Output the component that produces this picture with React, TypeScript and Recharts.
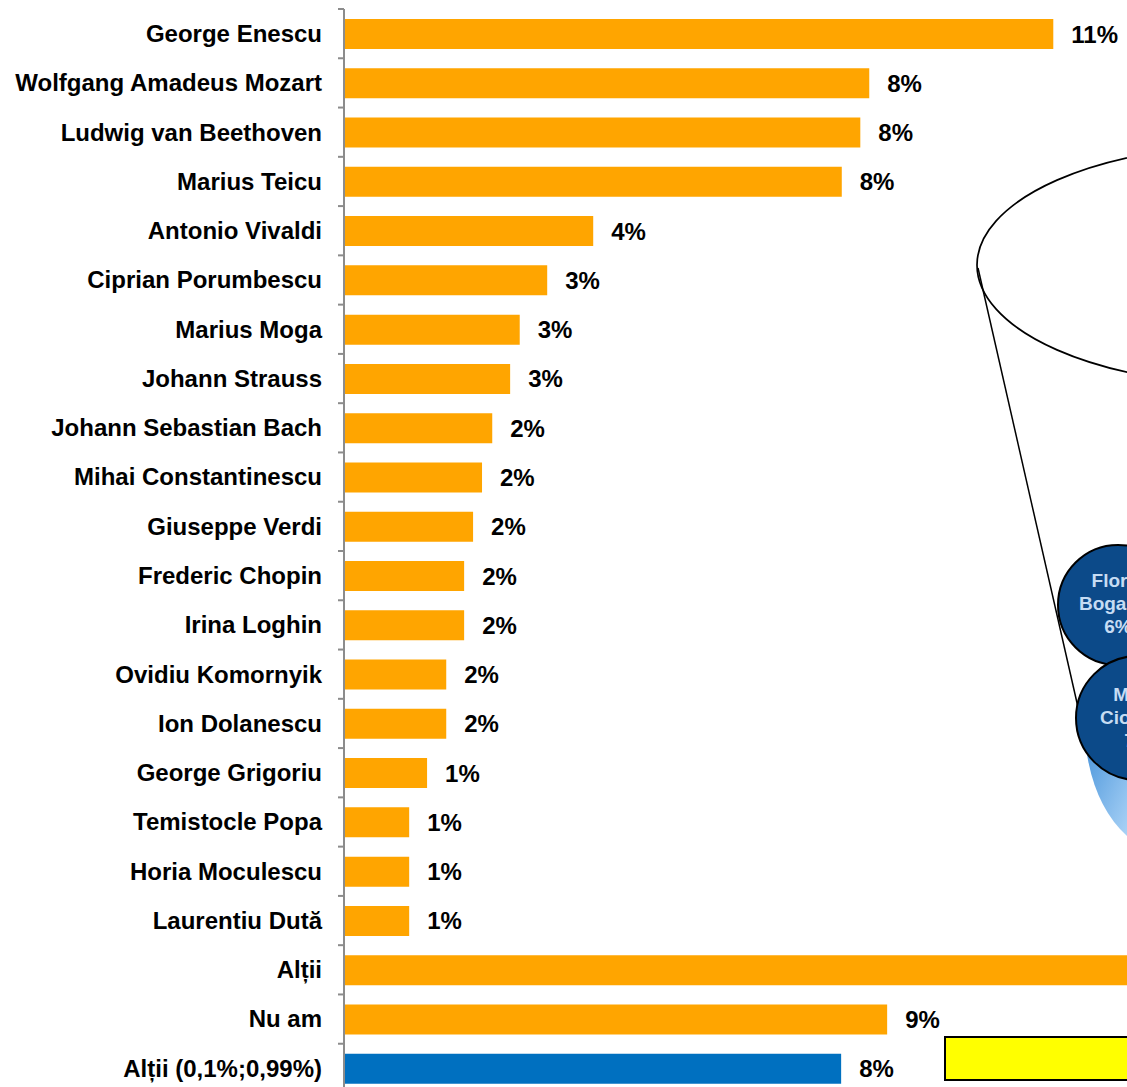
import React from "react";
import { BarChart, Bar, XAxis, YAxis, Cell, LabelList } from "recharts";

const categories = [
  "George Enescu",
  "Wolfgang Amadeus Mozart",
  "Ludwig van Beethoven",
  "Marius Teicu",
  "Antonio Vivaldi",
  "Ciprian Porumbescu",
  "Marius Moga",
  "Johann Strauss",
  "Johann Sebastian Bach",
  "Mihai Constantinescu",
  "Giuseppe Verdi",
  "Frederic Chopin",
  "Irina Loghin",
  "Ovidiu Komornyik",
  "Ion Dolanescu",
  "George Grigoriu",
  "Temistocle Popa",
  "Horia Moculescu",
  "Laurentiu Dută",
  "Alții",
  "Nu am",
  "Alții (0,1%;0,99%)",
];

const values = [
  11.1, 8.22, 8.08, 7.79, 3.9, 3.18, 2.75, 2.6, 2.32, 2.16, 2.02, 1.88, 1.88,
  1.6, 1.6, 1.3, 1.02, 1.02, 1.02, 15, 8.5, 7.78,
];

const highlighted = ["Alții (0,1%;0,99%)"];

const data = categories.map((name, i) => ({ name, value: values[i] }));

const W = 1127;
const H = 1087;
const AXIS_X = 344;
const CHART_W = 1622;
const CHART_H = 1100;
const MARGIN = { top: 9, right: 0, bottom: 7, left: 0 };
const BAND = (CHART_H - MARGIN.top - MARGIN.bottom) / categories.length;
const FONT = "'Liberation Sans', Arial, sans-serif";

function CategoryTick(props: any) {
  const { y, payload } = props;
  return (
    <g>
      <line
        x1={AXIS_X - 6}
        x2={AXIS_X}
        y1={y - BAND / 2}
        y2={y - BAND / 2}
        stroke="#8c8c8c"
        strokeWidth={2}
      />
      <text
        x={AXIS_X - 22}
        y={y}
        dy="0.35em"
        textAnchor="end"
        fontSize={24}
        fontWeight="bold"
        fontFamily={FONT}
        fill="#000"
      >
        {payload.value}
      </text>
    </g>
  );
}

export default function App() {
  return (
    <div
      style={{
        position: "absolute",
        top: 0,
        left: 0,
        width: W,
        height: H,
        overflow: "hidden",
        background: "#fff",
      }}
    >
      <BarChart
        width={CHART_W}
        height={CHART_H}
        data={data}
        layout="vertical"
        margin={MARGIN}
        barSize={30}
      >
        <XAxis type="number" domain={[0, 20]} hide />
        <YAxis
          type="category"
          dataKey="name"
          width={AXIS_X}
          axisLine={{ stroke: "#8c8c8c", strokeWidth: 2 }}
          tickLine={false}
          tick={<CategoryTick />}
          interval={0}
        />
        <Bar dataKey="value" isAnimationActive={false}>
          {data.map((d) => (
            <Cell
              key={d.name}
              fill={highlighted.includes(d.name) ? "#0070C0" : "#FFA500"}
            />
          ))}
          <LabelList
            dataKey="value"
            position="right"
            offset={18}
            formatter={(v: any) => `${Math.round(Number(v))}%`}
            style={{
              fontSize: 24,
              fontWeight: "bold",
              fontFamily: FONT,
              fill: "#000",
            }}
          />
        </Bar>
      </BarChart>

      {/* decorative funnel / bubbles on the right, cut by the picture edge */}
      <svg
        width={W}
        height={H}
        style={{ position: "absolute", top: 0, left: 0, pointerEvents: "none" }}
      >
        <defs>
          <linearGradient id="cone" x1="0" y1="0" x2="1" y2="1">
            <stop offset="0%" stopColor="#4f98dc" />
            <stop offset="100%" stopColor="#a9d2f6" />
          </linearGradient>
        </defs>
        <ellipse
          cx={1250}
          cy={265}
          rx={273}
          ry={120}
          fill="none"
          stroke="#000"
          strokeWidth={1.7}
        />
        <line x1={978} y1={268} x2={1090} y2={760} stroke="#000" strokeWidth={1.5} />
        <path d="M1086,748 Q1094,806 1127,836 L1127,748 Z" fill="url(#cone)" />
        <circle cx={1118} cy={605} r={60} fill="#0c4a89" stroke="#000" strokeWidth={2} />
        <g fontFamily={FONT} fontWeight="bold" fontSize={19} fill="#c6dcf3" textAnchor="middle">
          <text x={1118} y={587}>Florin</text>
          <text x={1118} y={610}>Bogardo</text>
          <text x={1118} y={633}>6%</text>
        </g>
        <circle cx={1138} cy={718} r={62} fill="#0c4a89" stroke="#000" strokeWidth={2} />
        <g fontFamily={FONT} fontWeight="bold" fontSize={19} fill="#c6dcf3" textAnchor="middle">
          <text x={1138} y={701}>Maria</text>
          <text x={1138} y={724}>Ciobanu</text>
          <text x={1138} y={747}>7%</text>
        </g>
        <rect
          x={945}
          y={1037}
          width={260}
          height={43}
          fill="#ffff00"
          stroke="#000"
          strokeWidth={2}
        />
      </svg>
    </div>
  );
}
